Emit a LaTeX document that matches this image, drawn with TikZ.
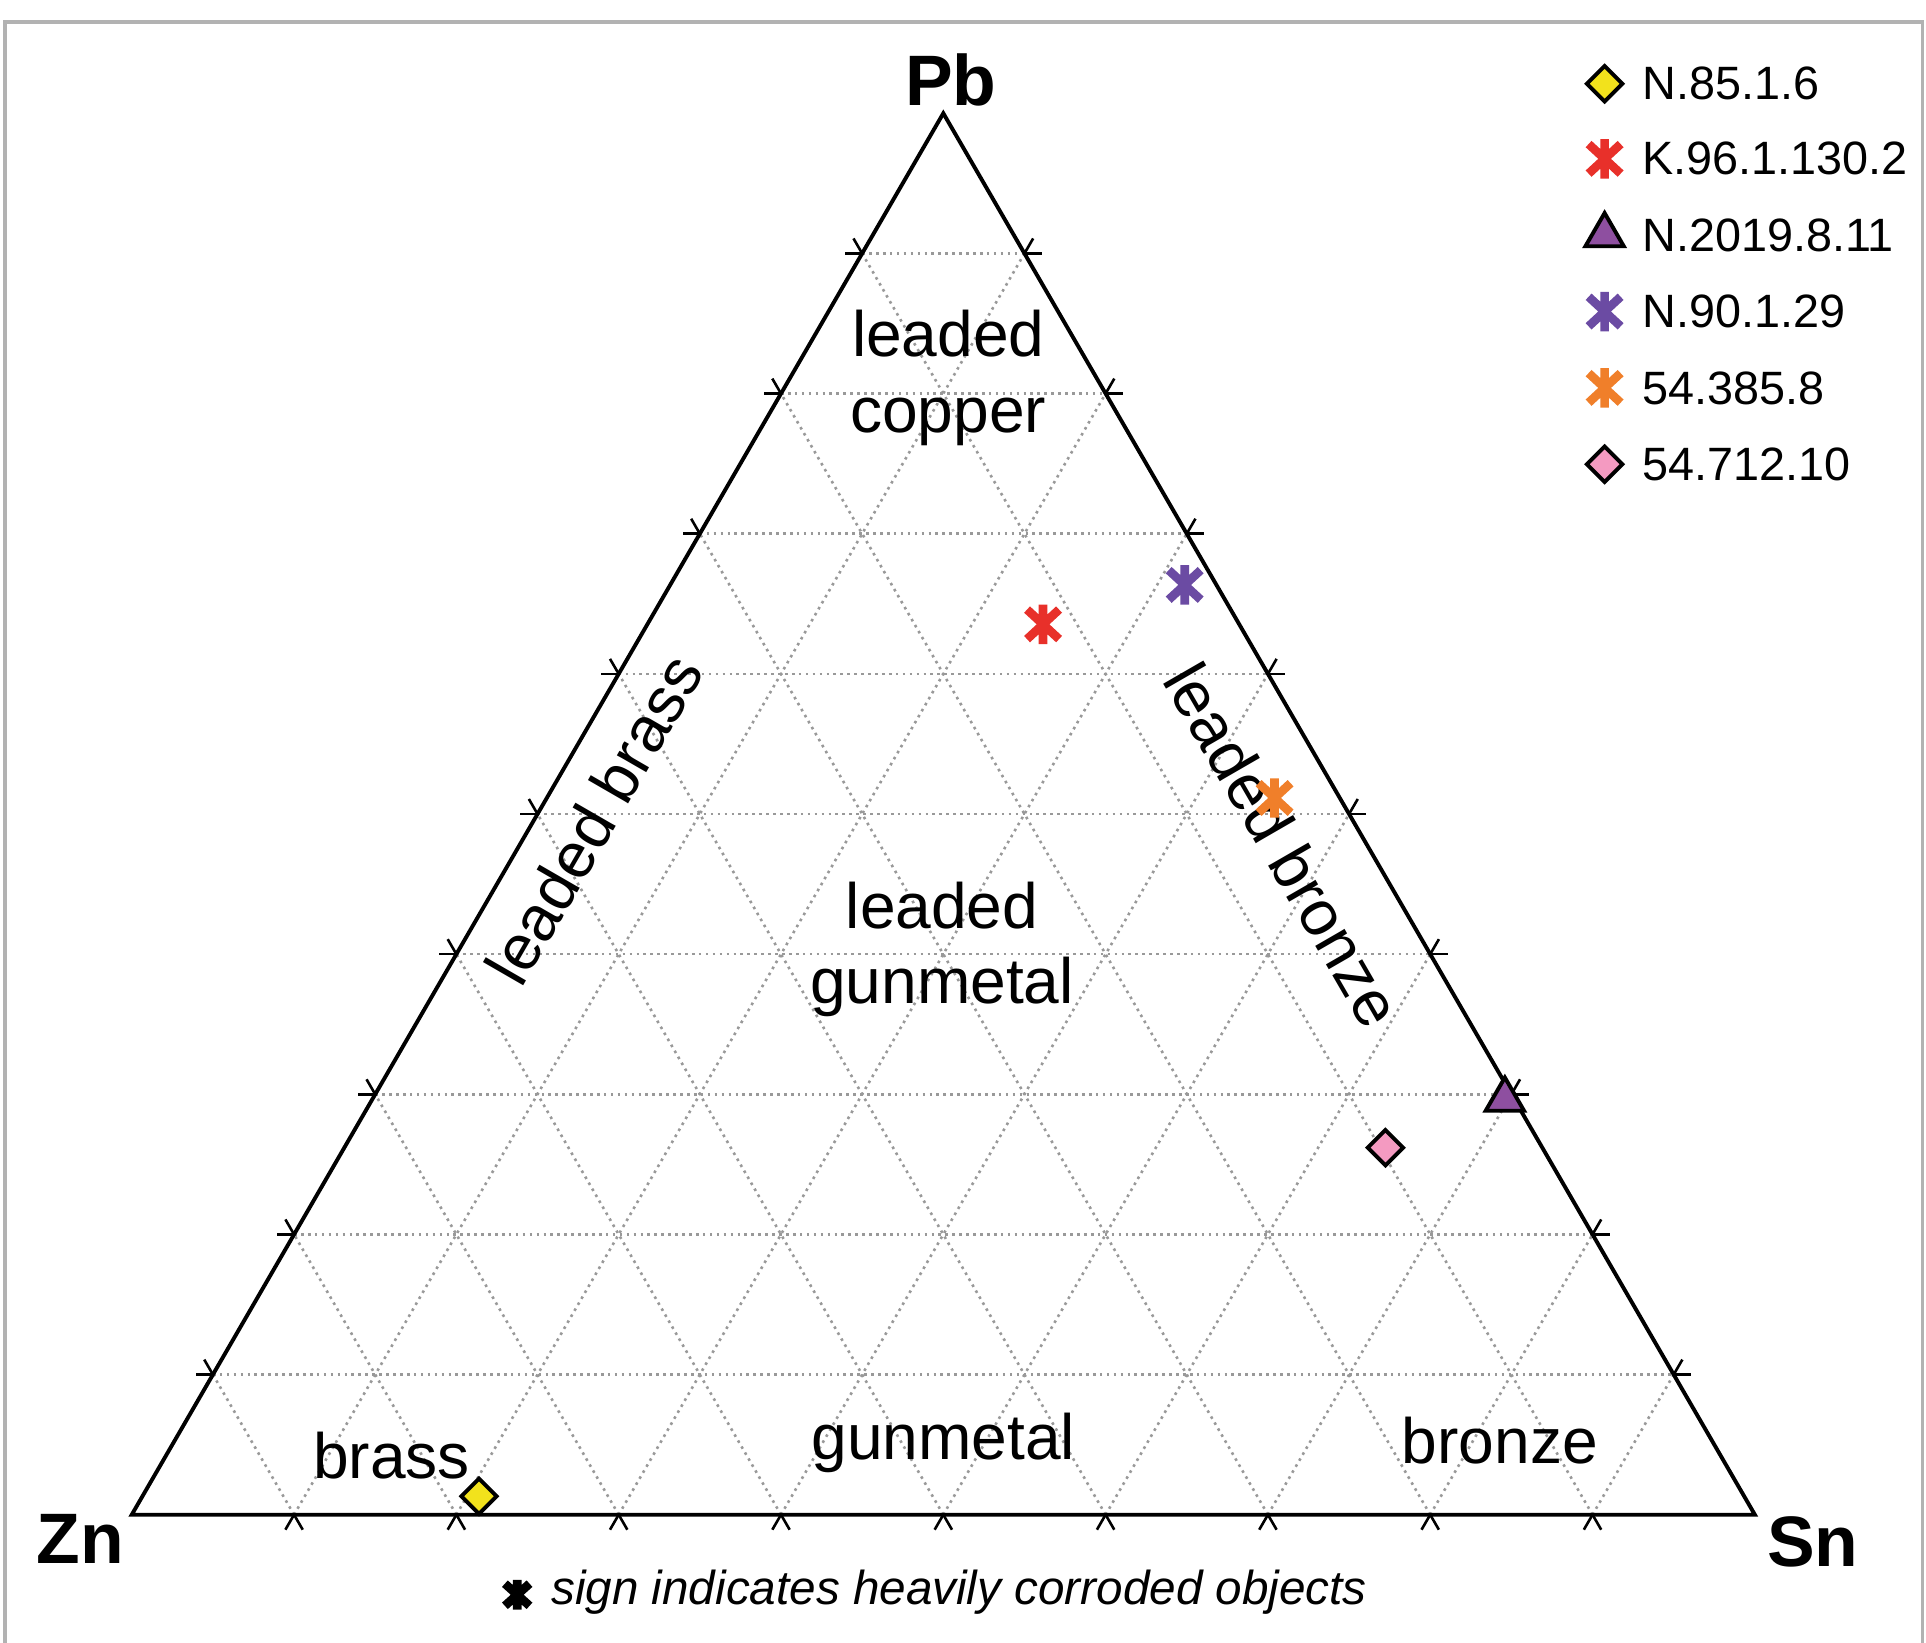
\documentclass[tikz,border=0pt]{standalone}
\usepackage{fontspec}
\setmainfont{Liberation Sans}
\usetikzlibrary{calc,shapes.geometric}
\definecolor{cred}{HTML}{E8302A}
\definecolor{cpur}{HTML}{6B4BA3}
\definecolor{cora}{HTML}{F07F2A}
\definecolor{cyel}{HTML}{F2E21C}
\definecolor{cpink}{HTML}{F49AC1}
\definecolor{ctri}{HTML}{8E4FA0}
\newcommand\myast[2]{\draw[#2,line width=2pt] (#1) +(0,-16) -- +(0,16) (#1) +(-13,-12) -- +(13,12) (#1) +(-13,12) -- +(13,-12);}
\tikzset{
 grid/.style={gray!80,densely dotted,line width=0.6pt},
 tick/.style={black,line width=0.6pt},
 lab/.style={font=\fontsize{14.8}{17.5}\selectfont,align=center,inner sep=0},
 leg/.style={font=\fontsize{10.8}{13}\selectfont,anchor=west,inner sep=0},
 dia/.style={diamond,draw=black,line width=0.9pt,minimum size=0.3cm,inner sep=0},
 tri/.style={regular polygon,regular polygon sides=3,draw=black,line width=0.9pt,fill=ctri,minimum size=0.36cm,inner sep=0},
 corner/.style={font=\fontsize{16.5}{20}\selectfont\bfseries,inner sep=0}
}
\begin{document}
\begin{tikzpicture}[x=0.01cm,y=-0.01cm]
\useasboundingbox (0,0) rectangle (1564,1334);
\draw[gray!60,line width=0.8pt] (4,18) rectangle (1561,1336);
\coordinate (Zn) at (107,1230);
\coordinate (Sn) at (1425,1230);
\coordinate (Pb) at (766,92);
\foreach \i in {1,...,9}{
  \coordinate (l\i) at ($(Zn)!\i/10!(Pb)$);
  \coordinate (r\i) at ($(Sn)!\i/10!(Pb)$);
  \coordinate (b\i) at ($(Zn)!\i/10!(Sn)$);
  \pgfmathsetmacro\j{10-\i}
  \coordinate (rr\i) at ($(Sn)!\j/10!(Pb)$);
  \draw[grid] (l\i) -- (r\i);
  \draw[grid] (b\i) -- (l\i);
  \draw[grid] (b\i) -- (rr\i);
  \draw[tick] (l\i) -- ($(l\i)!-4pt!(r\i)$);
  \draw[tick] (r\i) -- ($(r\i)!-4pt!(l\i)$);
  \draw[tick] (l\i) -- ($(l\i)!-4pt!(b\i)$);
  \draw[tick] (b\i) -- ($(b\i)!-4pt!(l\i)$);
  \draw[tick] (b\i) -- ($(b\i)!-4pt!(rr\i)$);
  \draw[tick] (rr\i) -- ($(rr\i)!-4pt!(b\i)$);
}
\draw[line width=0.9pt] (Zn) -- (Sn) -- (Pb) -- cycle;
\node[corner] (pbl) at (772,65) {Pb};
\node[corner] (znl) at (65,1250) {Zn};
\node[corner] (snl) at (1472,1252) {Sn};
\node[lab] (lc) at (770,307) {leaded\\copper};
\node[lab] (lg) at (765,771) {leaded\\gunmetal};
\node[lab,rotate=60] (lbr) at (482,665) {leaded brass};
\node[lab,rotate=-60] (lbz) at (1042,686) {leaded bronze};
\node[lab] (gm) at (766,1172) {gunmetal};
\node[lab] (br) at (318,1182) {brass};
\node[lab] (bz) at (1218,1170) {bronze};
% data
\coordinate (p1) at (389,1215);
\coordinate (p2) at (847,507);
\coordinate (p3) at (962,475);
\coordinate (p4) at (1035,648);
\coordinate (p5) at (1222,893);
\coordinate (p6) at (1125,932);
\node[dia,fill=cyel] at (p1) {};
\myast{p2}{cred}
\myast{p3}{cpur}
\myast{p4}{cora}
\node[tri] at (p5) {};
\node[dia,fill=cpink] at (p6) {};
% legend
\foreach \y/\t in {68/N.85.1.6,129/K.96.1.130.2,191/N.2019.8.11,253/N.90.1.29,315/54.385.8,377/54.712.10}{
  \node[leg] at (1333,\y) {\t};
}
\coordinate (g1) at (1303,68);
\coordinate (g2) at (1303,129);
\coordinate (g3) at (1303,191);
\coordinate (g4) at (1303,253);
\coordinate (g5) at (1303,315);
\coordinate (g6) at (1303,377);
\node[dia,fill=cyel] at (g1) {};
\myast{g2}{cred}
\node[tri] at (g3) {};
\myast{g4}{cpur}
\myast{g5}{cora}
\node[dia,fill=cpink] at (g6) {};
% footnote
\coordinate (fa) at (420,1295);
\draw[black,line width=2pt] (fa) +(0,-12) -- +(0,12) (fa) +(-10,-9) -- +(10,9) (fa) +(-10,9) -- +(10,-9);
\node[leg,font=\fontsize{11}{13}\selectfont\itshape] (fn) at (447,1293) {sign indicates heavily corroded objects};
\end{tikzpicture}
\end{document}
